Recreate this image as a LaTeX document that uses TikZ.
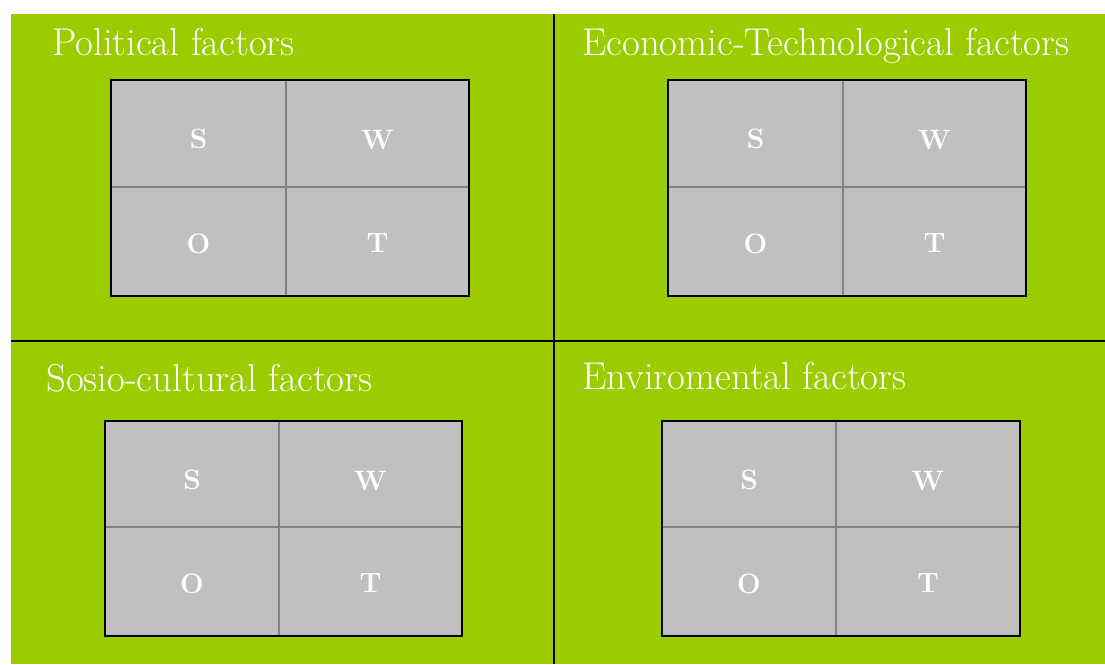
\documentclass[tikz,border=0pt]{standalone}
\usepackage{tikz}
\definecolor{bggreen}{RGB}{155,204,0}
\definecolor{cellgray}{RGB}{192,192,192}
\definecolor{cellline}{RGB}{130,130,130}
\tikzset{
  title/.style={anchor=base west, text=white, inner sep=0pt, font=\fontsize{38.8}{38.8}\selectfont},
  cell/.style={anchor=north west, draw=cellline, fill=cellgray, line width=1.2pt, inner sep=0pt, outer sep=0pt,
    text=white, font=\fontsize{28}{28}\selectfont\bfseries},
  frame/.style={draw=black, line width=2.5pt},
  divider/.style={draw=black, line width=2pt}
}
\newcommand\lowered[2]{\raisebox{-#1pt}[0pt][0pt]{#2}}
\newcommand\swotgrid[7]{%
  \node[cell, minimum width={(#3-#2)*1pt}, minimum height={(#6-#5)*1pt}] (#1S) at (#2,#5) {\lowered{15}{S}};
  \node[cell, minimum width={(#4-#3)*1pt}, minimum height={(#6-#5)*1pt}] (#1W) at (#3,#5) {\lowered{16}{W}};
  \node[cell, minimum width={(#3-#2)*1pt}, minimum height={(#7-#6)*1pt}] (#1O) at (#2,#6) {\lowered{12}{O}};
  \node[cell, minimum width={(#4-#3)*1pt}, minimum height={(#7-#6)*1pt}] (#1T) at (#3,#6) {\lowered{11}{T}};
  \draw[frame] (#1S.north west) rectangle (#1T.south east);
}
\begin{document}
\begin{tikzpicture}[x=1pt,y=-1pt]
\useasboundingbox (0,0) rectangle (1105,664);
\fill[white] (0,0) rectangle (1105,664);
\fill[bggreen] (11,14) rectangle (1105,664);
\coordinate (vtop) at (554,14);
\coordinate (vbot) at (554,664);
\coordinate (hl) at (11,341);
\coordinate (hr) at (1105,341);
\draw[divider] (vtop) -- (vbot);
\draw[divider] (hl) -- (hr);

\node[title] (t1) at (52,55) {Political factors};
\node[title] (t2) at (582,55) {Economic-Technological factors};
\node[title] (t3) at (46,391) {Sosio-cultural factors};
\node[title] (t4) at (582,389) {Enviromental factors};

\swotgrid{a}{111}{286}{469}{80}{187}{296}
\swotgrid{b}{668}{843}{1026}{80}{187}{296}
\swotgrid{c}{105}{279}{462}{421}{527}{636}
\swotgrid{d}{662}{836}{1020}{421}{527}{636}
\end{tikzpicture}
\end{document}
